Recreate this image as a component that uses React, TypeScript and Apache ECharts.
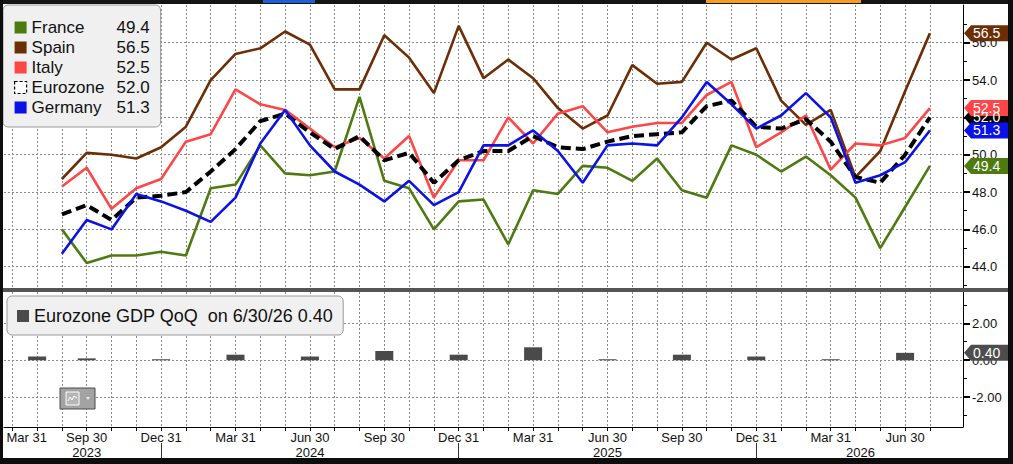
import React, { useEffect, useRef } from 'react';
import * as echarts from 'echarts';

const FONT = 'Liberation Sans';

// Monthly observations, Aug 2023 .. Jul 2026
const months = [
  '2023-08', '2023-09', '2023-10', '2023-11', '2023-12',
  '2024-01', '2024-02', '2024-03', '2024-04', '2024-05', '2024-06', '2024-07', '2024-08', '2024-09', '2024-10', '2024-11', '2024-12',
  '2025-01', '2025-02', '2025-03', '2025-04', '2025-05', '2025-06', '2025-07', '2025-08', '2025-09', '2025-10', '2025-11', '2025-12',
  '2026-01', '2026-02', '2026-03', '2026-04', '2026-05', '2026-06', '2026-07',
];

const france = [46.0, 44.2, 44.6, 44.6, 44.8, 44.6, 48.2, 48.4, 50.5, 49.0, 48.9, 49.1, 53.1, 48.6, 48.2, 46.0, 47.5, 47.6, 45.2, 48.1, 47.9, 49.4, 49.3, 48.6, 49.8, 48.1, 47.7, 50.5, 50.0, 49.1, 49.9, 48.9, 47.7, 45.0, 47.2, 49.4];
const spain = [48.7, 50.1, 50.0, 49.8, 50.4, 51.5, 54.0, 55.4, 55.7, 56.6, 55.9, 53.5, 53.5, 56.4, 55.2, 53.3, 56.9, 54.1, 55.1, 54.1, 52.5, 51.4, 52.1, 54.8, 53.8, 53.9, 56.0, 55.1, 55.7, 52.9, 51.6, 52.4, 48.8, 50.2, 53.4, 56.5];
const italy = [48.3, 49.3, 47.1, 48.2, 48.7, 50.7, 51.1, 53.5, 52.7, 52.4, 51.4, 50.4, 50.9, 49.8, 51.0, 47.7, 49.7, 49.7, 52.0, 50.6, 52.2, 52.6, 51.2, 51.5, 51.7, 51.7, 53.2, 53.9, 50.4, 51.2, 52.1, 49.2, 50.6, 50.5, 50.9, 52.5];
const eurozone = [46.8, 47.3, 46.5, 47.7, 47.8, 48.0, 49.1, 50.3, 51.8, 52.2, 51.2, 50.3, 51.0, 49.7, 50.1, 48.5, 49.7, 50.2, 50.2, 51.0, 50.4, 50.3, 50.7, 51.0, 51.1, 51.2, 52.6, 52.9, 51.5, 51.4, 51.9, 50.7, 48.8, 48.5, 50.0, 52.0];
const germany = [44.7, 46.5, 46.0, 47.9, 47.5, 47.0, 46.4, 47.7, 50.6, 52.4, 50.5, 49.1, 48.4, 47.5, 48.6, 47.3, 48.0, 50.5, 50.5, 51.3, 50.2, 48.5, 50.5, 50.6, 50.5, 52.0, 53.9, 52.7, 51.4, 52.1, 53.3, 52.0, 48.5, 48.9, 49.6, 51.3];

// Quarterly GDP QoQ
const gdpDates = ['2023-07', '2023-09', '2023-12', '2024-03', '2024-06', '2024-09', '2024-12', '2025-03', '2025-06', '2025-09', '2025-12', '2026-03', '2026-06'];
const gdpValues = [0.2, 0.1, 0.03, 0.3, 0.2, 0.5, 0.3, 0.7, 0.02, 0.3, 0.2, 0.02, 0.4];

// Axis labels
const quarterLabelDates = ['2023-09', '2023-12', '2024-03', '2024-06', '2024-09', '2024-12', '2025-03', '2025-06', '2025-09', '2025-12', '2026-03', '2026-06'];
const quarterLabelTexts = ['Sep 30', 'Dec 31', 'Mar 31', 'Jun 30', 'Sep 30', 'Dec 31', 'Mar 31', 'Jun 30', 'Sep 30', 'Dec 31', 'Mar 31', 'Jun 30'];
const leadLabelPos = -1.42;
const leadLabelText = 'Mar 31';
const yearLabelPos = [1, 10, 22, 32.2];
const yearLabelTexts = ['2023', '2024', '2025', '2026'];
const yearBreakDates = ['2023-12', '2024-12', '2025-12'];
const upperTicks = [44, 46, 48, 50, 52, 54, 56];
const upperMinorTicks = [43, 45, 47, 49, 51, 53, 55, 57];
const lowerTicks = [-2, 0, 2];
const lowerMinorTicks = [-3, -1, 1, 3];

const X_MIN = -2.335;
const X_MAX = 36.335;

const monthIndex = (d: string) => {
  const [y, m] = d.split('-').map(Number);
  return (y - 2023) * 12 + (m - 8);
};
const monthTicks = [-2, -1, ...months.map((_, i) => i)];

const COLORS = {
  France: '#4d7b10',
  Spain: '#6b2e06',
  Italy: '#ff4646',
  Eurozone: '#000000',
  Germany: '#0a12e6',
  GDP: '#4a4a4a',
};

const toPairs = (arr: number[]) => arr.map((v, i) => [i, v]);
const gridLine = { show: true, lineStyle: { color: '#8a8a8a', width: 1, type: [2, 2] as any } };

export default function App() {
  const ref = useRef<HTMLDivElement>(null);
  useEffect(() => {
    const chart = echarts.init(ref.current!, null, { renderer: 'svg' });
    const qPos = quarterLabelDates.map(monthIndex);
    const labelPos = [leadLabelPos, ...qPos];
    const labelTxt = [leadLabelText, ...quarterLabelTexts];
    const findLabel = (pos: number[], txt: string[]) => (v: number) => {
      const k = pos.findIndex((p) => Math.abs(p - v) < 0.01);
      return k >= 0 ? txt[k] : '';
    };
    const lastOf: Record<string, number> = {
      France: france[france.length - 1],
      Spain: spain[spain.length - 1],
      Italy: italy[italy.length - 1],
      Eurozone: eurozone[eurozone.length - 1],
      Germany: germany[germany.length - 1],
    };
    const line = (name: string, data: number[], extra: any = {}) => ({
      name,
      type: 'line',
      xAxisIndex: 0,
      yAxisIndex: 0,
      data: toPairs(data),
      showSymbol: false,
      symbol: 'none',
      silent: true,
      lineStyle: { color: (COLORS as any)[name], width: 2.6, ...(extra.lineStyle || {}) },
      itemStyle: { color: (COLORS as any)[name] },
    });

    const option: any = {
      animation: false,
      backgroundColor: '#ffffff',
      textStyle: { fontFamily: FONT },
      grid: [
        { left: 4, right: 50, top: 5, height: 283, outerBoundsMode: 'none', containLabel: false },
        { left: 4, right: 50, top: 292, height: 135, outerBoundsMode: 'none', containLabel: false },
      ],
      legend: [
        {
          orient: 'vertical',
          left: 3,
          top: 5,
          padding: [14, 11, 11, 11],
          itemGap: 3,
          itemWidth: 12,
          itemHeight: 12,
          icon: 'rect',
          selectedMode: false,
          backgroundColor: '#f0f0f0',
          borderColor: '#9a9a9a',
          borderWidth: 1,
          borderRadius: 5,
          data: [
            { name: 'France' },
            { name: 'Spain' },
            { name: 'Italy' },
            { name: 'Eurozone', itemStyle: { color: '#ffffff', borderColor: '#000', borderWidth: 1.2, borderType: [3, 2] } },
            { name: 'Germany' },
          ],
          formatter: (name: string) => `{n|${name}}{v|${lastOf[name].toFixed(1)}}`,
          textStyle: {
            fontFamily: FONT,
            fontSize: 17,
            color: '#111',
            rich: {
              n: { width: 80, fontSize: 17, fontFamily: FONT, color: '#111', lineHeight: 20 },
              v: { width: 38, align: 'right', fontSize: 17, fontFamily: FONT, color: '#111', lineHeight: 20 },
            },
          },
        },
        {
          orient: 'horizontal',
          left: 7,
          top: 296,
          padding: [10, 10, 9, 10],
          itemWidth: 12,
          itemHeight: 12,
          icon: 'rect',
          selectedMode: false,
          backgroundColor: '#f0f0f0',
          borderColor: '#9a9a9a',
          borderWidth: 1,
          borderRadius: 5,
          data: ['Eurozone GDP QoQ'],
          formatter: (name: string) => `${name}\u00a0 on 6/30/26 ${gdpValues[gdpValues.length - 1].toFixed(2)}`,
          textStyle: { fontFamily: FONT, fontSize: 18, color: '#111', lineHeight: 20 },
        },
      ],
      xAxis: [
        {
          type: 'value', gridIndex: 0, min: X_MIN, max: X_MAX,
          axisLine: { show: false, onZero: false },
          axisTick: { show: false, customValues: monthTicks },
          axisLabel: { show: false },
          splitLine: gridLine,
        },
        {
          type: 'value', gridIndex: 1, min: X_MIN, max: X_MAX, position: 'bottom',
          axisLine: { show: true, onZero: false, lineStyle: { color: '#000', width: 1 } },
          axisTick: { show: true, customValues: monthTicks, length: 4, lineStyle: { color: '#000' } },
          axisLabel: {
            show: true, customValues: labelPos, formatter: findLabel(labelPos, labelTxt),
            margin: 4, fontSize: 13, fontFamily: FONT, color: '#111',
          },
          splitLine: gridLine,
        },
        {
          type: 'value', gridIndex: 1, min: X_MIN, max: X_MAX, offset: 16, position: 'bottom',
          axisLine: { show: false, onZero: false },
          axisTick: { show: true, customValues: yearBreakDates.map(monthIndex), length: 16, lineStyle: { color: '#333', width: 1 } },
          axisLabel: {
            show: true, customValues: yearLabelPos, formatter: findLabel(yearLabelPos, yearLabelTexts),
            margin: 3, fontSize: 13, fontFamily: FONT, color: '#111',
          },
          splitLine: { show: false },
        },
      ],
      yAxis: [
        {
          type: 'value', gridIndex: 0, position: 'right', min: 42.86, max: 58.02,
          axisLine: { show: true, onZero: false, lineStyle: { color: '#000', width: 1 } },
          axisTick: { show: true, customValues: upperTicks, length: 7, lineStyle: { color: '#000', width: 2 } },
          axisLabel: { show: true, customValues: upperTicks, formatter: (v: number) => v.toFixed(1), margin: 9, fontSize: 13, fontFamily: FONT, color: '#111' },
          splitLine: gridLine,
        },
        {
          type: 'value', gridIndex: 0, position: 'right', min: 42.86, max: 58.02,
          axisLine: { show: false, onZero: false },
          axisTick: { show: true, customValues: upperMinorTicks, length: 4, lineStyle: { color: '#000', width: 1 } },
          axisLabel: { show: false },
          splitLine: { show: false },
        },
        {
          type: 'value', gridIndex: 1, position: 'right', min: -3.61, max: 3.69,
          axisLine: { show: true, onZero: false, lineStyle: { color: '#000', width: 1 } },
          axisTick: { show: true, customValues: lowerTicks, length: 7, lineStyle: { color: '#000', width: 2 } },
          axisLabel: { show: true, customValues: lowerTicks, formatter: (v: number) => v.toFixed(2), margin: 9, fontSize: 13, fontFamily: FONT, color: '#111' },
          splitLine: gridLine,
        },
        {
          type: 'value', gridIndex: 1, position: 'right', min: -3.61, max: 3.69,
          axisLine: { show: false, onZero: false },
          axisTick: { show: true, customValues: lowerMinorTicks, length: 4, lineStyle: { color: '#000', width: 1 } },
          axisLabel: { show: false },
          splitLine: { show: false },
        },
      ],
      series: [
        line('France', france),
        line('Spain', spain),
        line('Italy', italy),
        line('Eurozone', eurozone, { lineStyle: { width: 4, type: [10, 5], cap: 'butt' } }),
        line('Germany', germany),
        {
          name: 'Eurozone GDP QoQ',
          type: 'bar',
          xAxisIndex: 1,
          yAxisIndex: 2,
          barWidth: 18,
          barMinHeight: 1,
          silent: true,
          itemStyle: { color: COLORS.GDP },
          data: gdpDates.map((d, i) => [monthIndex(d), gdpValues[i]]),
        },
      ],
    };
    chart.setOption(option);

    // last-value tags on the right axes
    const tagX = 964;
    const tag = (y: number, color: string, text: string) => [
      {
        type: 'polygon',
        shape: { points: [[tagX, y], [tagX + 7, y - 8], [1008, y - 8], [1008, y + 8], [tagX + 7, y + 8]] },
        style: { fill: color },
        z: 50,
      },
      {
        type: 'text',
        x: tagX + 9,
        y: y,
        style: { text, fill: '#ffffff', font: `14px "${FONT}"`, verticalAlign: 'middle', align: 'left' },
        z: 51,
      },
    ];
    const order = ['Eurozone', 'Germany', 'Italy', 'France', 'Spain'];
    const tags: any[] = [];
    order.forEach((name) => {
      const v = lastOf[name];
      const y = chart.convertToPixel({ yAxisIndex: 0 } as any, v) as number;
      tags.push(...tag(y, (COLORS as any)[name], v.toFixed(1)));
    });
    const gv = gdpValues[gdpValues.length - 1];
    const gy = chart.convertToPixel({ yAxisIndex: 2 } as any, gv) as number;
    tags.push(...tag(gy, '#4d4d4d', gv.toFixed(2)));

    const frame: any[] = [
      { type: 'rect', shape: { x: 0, y: 0, width: 1013, height: 4 }, style: { fill: '#151515' }, z: 60 },
      { type: 'rect', shape: { x: 263, y: 0, width: 52, height: 3 }, style: { fill: '#1f5fd6' }, z: 61 },
      { type: 'rect', shape: { x: 706, y: 0, width: 155, height: 3 }, style: { fill: '#f59d1c' }, z: 61 },
      { type: 'rect', shape: { x: 0, y: 0, width: 3, height: 464 }, style: { fill: '#0d0d0d' }, z: 60 },
      { type: 'rect', shape: { x: 1008, y: 0, width: 5, height: 464 }, style: { fill: '#0d0d0d' }, z: 60 },
      { type: 'rect', shape: { x: 0, y: 458, width: 1013, height: 6 }, style: { fill: '#0d0d0d' }, z: 60 },
      { type: 'rect', shape: { x: 3, y: 288, width: 1005, height: 4 }, style: { fill: '#555555' }, z: 40 },
      // small chart-type widget in the lower panel
      { type: 'rect', shape: { x: 60, y: 388, width: 35, height: 21 }, style: { fill: '#a3a3a3', stroke: '#4a4a4a', lineWidth: 1 }, z: 40 },
      { type: 'rect', shape: { x: 66, y: 392, width: 13, height: 13 }, style: { fill: '#b5b5b5', stroke: '#ffffff', lineWidth: 1 }, z: 41 },
      { type: 'polyline', shape: { points: [[68, 401], [70, 397], [72, 400], [74, 396], [77, 398]] }, style: { stroke: '#ffffff', lineWidth: 1, fill: 'none' }, z: 42 },
      { type: 'polygon', shape: { points: [[86, 397], [90, 397], [88, 400]] }, style: { fill: '#e8e8e8' }, z: 42 },
    ];

    chart.setOption({ graphic: [...frame, ...tags] });
    return () => chart.dispose();
  }, []);
  return <div ref={ref} style={{ position: 'fixed', left: 0, top: 0, width: 1013, height: 464 }} />;
}
